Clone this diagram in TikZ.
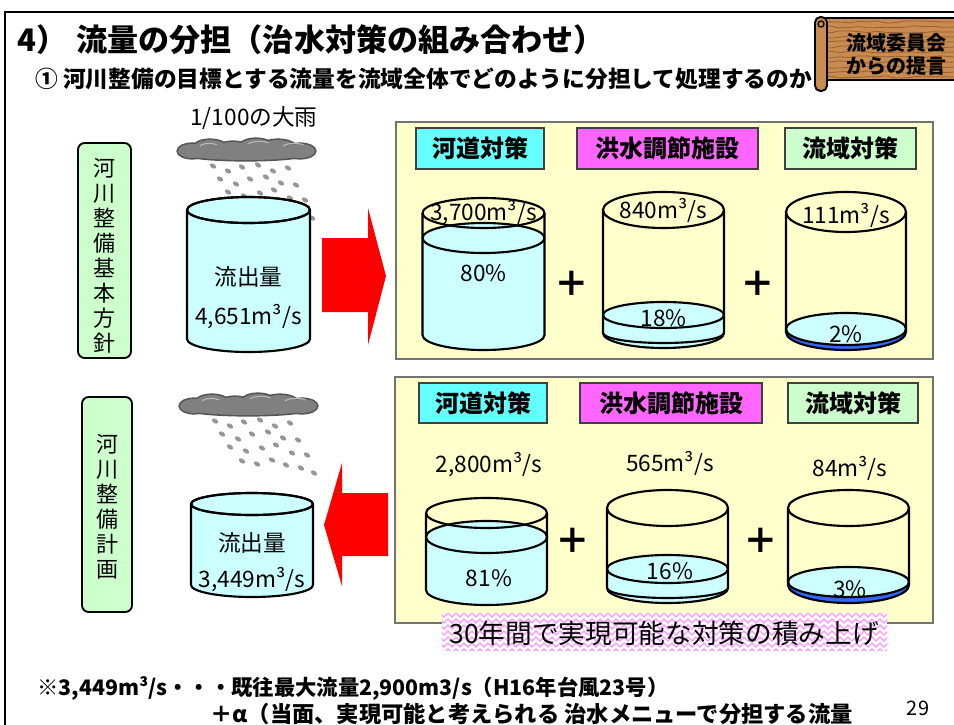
\documentclass[tikz,border=0pt]{standalone}
\usepackage{fontspec}
\setmainfont{Noto Sans CJK JP}
\usetikzlibrary{decorations.pathmorphing}

\definecolor{water}{RGB}{204,255,255}
\definecolor{panelbg}{RGB}{255,255,204}
\definecolor{hdcyan}{RGB}{102,255,255}
\definecolor{hdmag}{RGB}{255,102,255}
\definecolor{hdgreen}{RGB}{204,255,204}
\definecolor{deepblue}{RGB}{51,102,255}
\definecolor{wood}{RGB}{200,140,80}
\definecolor{wooddark}{RGB}{150,95,45}
\definecolor{zigpink}{RGB}{255,150,255}
\definecolor{cloudgray}{RGB}{128,128,128}
\definecolor{cloudedge}{RGB}{85,85,85}
\definecolor{dropgray}{RGB}{150,150,150}

\newcommand\sz[1]{\fontsize{#1}{#1}\selectfont}
\newcommand\szb[2]{\fontsize{#1}{#2}\selectfont}

% open cylinder: #1 centre x, #2 half width, #3 rim y, #4 rim half height,
% #5 water surface y, #6 surface half height, #7 base y, #8 base half height,
% #9 colour of the water body below the surface
\newcommand\tank[9]{%
  \fill[#9] (#1-#2,#5) -- (#1-#2,#7)
     arc[start angle=180,end angle=0,x radius=#2,y radius=#8] -- (#1+#2,#5) -- cycle;
  \fill[water] (#1,#5) ellipse[x radius=#2,y radius=#6];
  \draw[tankline] (#1,#5) ellipse[x radius=#2,y radius=#6];
  \draw[tankline] (#1-#2,#3) -- (#1-#2,#7)
     arc[start angle=180,end angle=0,x radius=#2,y radius=#8] -- (#1+#2,#3);
  \draw[tankline] (#1,#3) ellipse[x radius=#2,y radius=#4];
}

% rain cloud with falling drops, #1/#2 = upper left corner
\newcommand\raincloud[2]{%
  \begin{scope}[shift={(#1,#2)}]
    \foreach \ex/\ey/\erx/\ery in {14/13/14/7,32/9/16/7,55/11/16/7,78/8/16/7,100/10/18/8,122/13/15/7,68/16/60/6}
      \draw[line width=2.4pt,cloudedge] (\ex,\ey) ellipse[x radius=\erx,y radius=\ery];
    \foreach \ex/\ey/\erx/\ery in {14/13/14/7,32/9/16/7,55/11/16/7,78/8/16/7,100/10/18/8,122/13/15/7,68/16/60/6}
      \fill[cloudgray] (\ex,\ey) ellipse[x radius=\erx,y radius=\ery];
    \draw[gray!55,line width=0.8pt] (22,8) arc[start angle=200,end angle=320,x radius=10,y radius=4]
                                    (70,6) arc[start angle=200,end angle=320,x radius=12,y radius=4]
                                    (105,8) arc[start angle=200,end angle=320,x radius=12,y radius=4];
    \foreach \dx/\dy in {35/28,50/33,64/29,80/27,95/33,110/30,
                         42/41,58/46,72/41,88/39,103/45,118/47,
                         50/54,66/58,82/55,96/52,112/60,127/62,
                         62/68,77/71,92/67,106/72,121/75,134/80}
      \fill[dropgray,rotate around={-35:(\dx,\dy)}] (\dx,\dy) ellipse[x radius=3.4,y radius=2.2];
  \end{scope}}

\begin{document}
\begin{tikzpicture}[x=0.75pt,y=-0.75pt,
  tankline/.style={line width=1.6pt,black,line join=round},
  val/.style={inner sep=0pt,font=\sz{17}},
  hdr/.style={draw=black!75,line width=0.9pt,inner sep=0pt,font=\bfseries\sz{18}},
  panel/.style={fill=panelbg,draw=black!55,line width=1.2pt},
  vlabel/.style={draw=black,line width=1.4pt,rounded corners=5pt,fill=hdgreen},
  vtext/.style={align=center,inner sep=0pt,font=\szb{16.5}{18.75}},
  bigarrow/.style={fill=red},
  plussign/.style={inner sep=0pt,font=\bfseries\sz{26}},
  foot/.style={anchor=west,inner sep=0pt,font=\bfseries\sz{16}}]

\useasboundingbox (0,0) rectangle (954,725);
\fill[white] (0,0) rectangle (954,725);

% page frame
\draw[line width=1.5pt] (5,725) -- (5,12) -- (954,12);

% headings
\node[anchor=west,inner sep=0pt,font=\bfseries\sz{23.3}] (title) at (17,40)
  {4）\hspace{0.3em}流量の分担（治水対策の組み合わせ）};
\node[anchor=west,inner sep=0pt,font=\bfseries\sz{17.05}] (subtitle) at (35,79)
  {① 河川整備の目標とする流量を流域全体でどのように分担して処理するのか};

% wooden scroll sign
\begin{scope}
  \clip (821,18) rectangle (954,80);
  \fill[wood] (821,18) rectangle (954,80);
  \foreach \yy in {22,27,...,78}
    \draw[wooddark,line width=0.6pt,decorate,decoration={random steps,segment length=7pt,amplitude=0.9pt}]
      (821,\yy) -- (954,\yy);
\end{scope}
\draw[line width=1.5pt] (954,18) -- (821,18) (821,80) -- (954,80);
\filldraw[fill=wood,draw=black,line width=1.4pt,rounded corners=4pt] (815,17) rectangle (827,91);
\draw[line width=1pt] (821,24) circle[radius=3];
\node[align=center,inner sep=0pt,font=\bfseries\szb{15}{17.25}] (scroll) at (896,54)
  {流域委員会\\からの提言};

% plan labels
\draw[vlabel] (78,143) rectangle (131,358);
\node[vtext] (basic) at (104.5,256) {河\\川\\整\\備\\基\\本\\方\\針};
\draw[vlabel] (82,397) rectangle (132,612);
\node[vtext] (plan) at (107,507) {河\\川\\整\\備\\計\\画};

% rain clouds
\node[inner sep=0pt,font=\sz{17}] (rain) at (254,118) {1/100の大雨};
\raincloud{178}{138}
\raincloud{180}{393}

% total outflow tanks
\tank{248.5}{61.5}{210}{13}{210}{13}{339}{13}{water}
\node[val] (q1) at (248.5,277) {流出量};
\node[val] (q1v) at (248.5,317) {4,651m³/s};
\tank{252}{61}{504}{11}{504}{11}{585}{12}{water}
\node[val] (q2) at (252,543) {流出量};
\node[val] (q2v) at (252,580) {3,449m³/s};

% block arrows
\fill[bigarrow] (322,238) -- (368,238) -- (368,208) -- (386,276) -- (368,345) -- (368,312) -- (322,312) -- cycle;
\fill[bigarrow] (388,493) -- (342,493) -- (342,463) -- (324,525) -- (342,586) -- (342,556) -- (388,556) -- cycle;

% panels
\draw[panel] (396,122) rectangle (933,359);
\draw[panel] (395,377) rectangle (933,623);

% panel headers
\node[hdr,fill=hdcyan,minimum width=96pt,minimum height=30.75pt] (h1) at (480,148.5) {河道対策};
\node[hdr,fill=hdmag,minimum width=135.75pt,minimum height=30.75pt] (h2) at (667.5,148.5) {洪水調節施設};
\node[hdr,fill=hdgreen,minimum width=98.25pt,minimum height=30.75pt] (h3) at (850.5,148.5) {流域対策};
\node[hdr,fill=hdcyan,minimum width=96pt,minimum height=30pt] (h4) at (483,403) {河道対策};
\node[hdr,fill=hdmag,minimum width=136.5pt,minimum height=30pt] (h5) at (671,403) {洪水調節施設};
\node[hdr,fill=hdgreen,minimum width=97.5pt,minimum height=30pt] (h6) at (853,403) {流域対策};

% upper share tanks
\tank{483.5}{61}{213}{15}{238}{15}{335}{15}{water}
\tank{663.5}{60.5}{210}{18}{315}{13}{333}{15}{water}
\draw[tankline] (724,333) arc[start angle=0,end angle=180,x radius=60.5,y radius=10];
\tank{846}{60}{212}{20}{329}{16}{332}{18}{deepblue}
\node[val] (a1) at (483.5,213) {3,700m³/s};
\node[val] (a1p) at (483.5,273) {80\%};
\node[val] (a2) at (663.5,210) {840m³/s};
\node[val] (a2p) at (663.5,318) {18\%};
\node[val] (a3) at (846,215) {111m³/s};
\node[val] (a3p) at (846,334) {2\%};
\node[plussign] (p1) at (572,284) {＋};
\node[plussign] (p2) at (758,284) {＋};

% lower share tanks
\node[val] (b1) at (489,465) {2,800m³/s};
\node[val] (b2) at (670,463) {565m³/s};
\node[val] (b3) at (850,468) {84m³/s};
\tank{486.5}{60.5}{513}{15}{537}{16}{590}{15}{water}
\tank{667.5}{60.5}{508}{18}{569}{14}{588}{15}{water}
\draw[tankline] (728,588) arc[start angle=0,end angle=180,x radius=60.5,y radius=10];
\tank{848.5}{60.5}{508}{18}{582}{15}{585}{18}{deepblue}
\node[val] (b1p) at (489,578) {81\%};
\node[val] (b2p) at (670,571) {16\%};
\node[val] (b3p) at (850,589) {3\%};
\node[plussign] (p3) at (573,541) {＋};
\node[plussign] (p4) at (761,541) {＋};

% banner with pink wave pattern
\begin{scope}
  \clip (442,613) rectangle (887,650);
  \fill[white] (442,613) rectangle (887,650);
  \foreach \yy in {615,621,...,651}
    \draw[zigpink,line width=0.9pt,decorate,decoration={zigzag,segment length=6pt,amplitude=1.6pt}]
      (438,\yy) -- (892,\yy);
\end{scope}
\node[inner sep=0pt,font=\sz{20}] (banner) at (664,633) {30年間で実現可能な対策の積み上げ};

% footnote
\node[foot] (note1) at (37,688) {※3,449m³/s・・・既往最大流量2,900m3/s（H16年台風23号）};
\node[foot,font=\bfseries\sz{16.7}] (note2) at (210,714) {＋α（当面、実現可能と考えられる 治水メニューで分担する流量};
\node[inner sep=0pt,font=\sz{15}] (page) at (918,708) {29};
\end{tikzpicture}
\end{document}
